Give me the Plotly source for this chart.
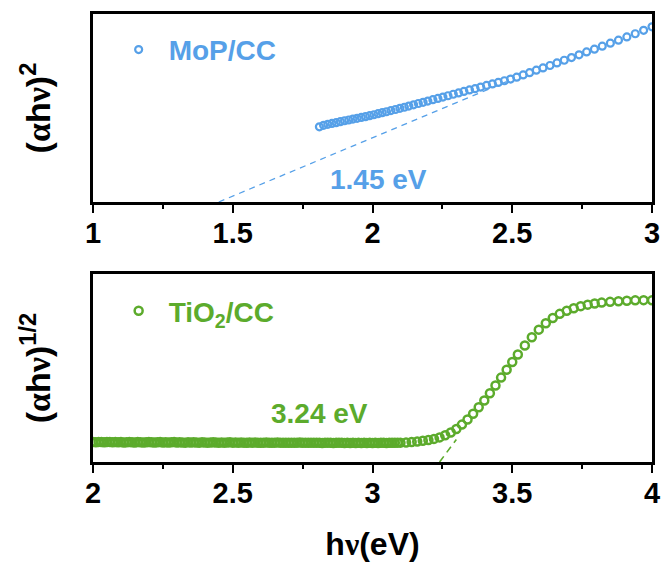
import plotly.graph_objects as go

# ---- MoP/CC Tauc data: (αhν)^2 vs photon energy ----
mop_x = [1.81, 1.825, 1.84, 1.855, 1.87, 1.885, 1.90, 1.915, 1.93, 1.945,
         1.96, 1.975, 1.99, 2.005, 2.02, 2.035, 2.05, 2.066, 2.082, 2.098,
         2.114, 2.13, 2.147, 2.164, 2.181, 2.198, 2.216, 2.234, 2.252, 2.27,
         2.289, 2.308, 2.327, 2.347, 2.367, 2.387, 2.408, 2.429, 2.45, 2.472,
         2.494, 2.516, 2.539, 2.562, 2.586, 2.61, 2.635, 2.66, 2.686, 2.712,
         2.739, 2.766, 2.794, 2.822, 2.851, 2.88, 2.91, 2.94, 2.97, 3.0]
mop_y = [0.400, 0.408, 0.413, 0.418, 0.422, 0.427, 0.432, 0.436, 0.441, 0.445,
         0.450, 0.454, 0.459, 0.464, 0.470, 0.475, 0.480, 0.486, 0.492, 0.498,
         0.504, 0.510, 0.517, 0.524, 0.530, 0.537, 0.544, 0.551, 0.558, 0.565,
         0.573, 0.580, 0.588, 0.596, 0.603, 0.611, 0.620, 0.628, 0.636, 0.645,
         0.654, 0.664, 0.676, 0.688, 0.701, 0.713, 0.726, 0.740, 0.754, 0.768,
         0.783, 0.798, 0.813, 0.829, 0.845, 0.861, 0.878, 0.895, 0.913, 0.932]
mop_gap = 1.45            # extrapolated band gap (eV)
mop_fit_end = [2.48, 0.64]  # end of the linear extrapolation

# ---- TiO2/CC Tauc data: (αhν)^1/2 vs photon energy ----
tio2_x = [2.00, 2.01, 2.02, 2.03, 2.04, 2.05, 2.06, 2.07, 2.08, 2.09,
          2.10, 2.11, 2.12, 2.13, 2.14, 2.15, 2.16, 2.17, 2.18, 2.19,
          2.20, 2.21, 2.22, 2.23, 2.24, 2.25, 2.26, 2.27, 2.28, 2.29,
          2.30, 2.31, 2.32, 2.33, 2.34, 2.35, 2.36, 2.37, 2.38, 2.39,
          2.40, 2.41, 2.42, 2.43, 2.44, 2.45, 2.46, 2.47, 2.48, 2.49,
          2.50, 2.51, 2.52, 2.53, 2.54, 2.55, 2.56, 2.57, 2.58, 2.59,
          2.60, 2.61, 2.62, 2.63, 2.64, 2.65, 2.66, 2.67, 2.68, 2.69,
          2.70, 2.71, 2.72, 2.73, 2.74, 2.75, 2.76, 2.77, 2.78, 2.79,
          2.80, 2.81, 2.82, 2.83, 2.84, 2.85, 2.86, 2.87, 2.88, 2.89,
          2.90, 2.91, 2.92, 2.93, 2.94, 2.95, 2.96, 2.97, 2.98, 2.99,
          3.00, 3.01, 3.02, 3.03, 3.04, 3.05, 3.06, 3.07, 3.08, 3.09,
          3.10, 3.12, 3.14, 3.16, 3.18, 3.20, 3.22, 3.24, 3.26, 3.28,
          3.30, 3.32, 3.34, 3.36, 3.38, 3.40, 3.42, 3.44, 3.46, 3.48,
          3.50, 3.52, 3.545, 3.57, 3.595, 3.62, 3.645, 3.67, 3.695, 3.72,
          3.745, 3.77, 3.795, 3.82, 3.85, 3.88, 3.91, 3.94, 3.97, 4.0]
tio2_y = [0.106, 0.105, 0.107, 0.106, 0.105, 0.106, 0.107, 0.105, 0.106, 0.105,
          0.106, 0.104, 0.105, 0.106, 0.105, 0.104, 0.106, 0.105, 0.104, 0.105,
          0.106, 0.105, 0.104, 0.105, 0.106, 0.104, 0.105, 0.104, 0.105, 0.106,
          0.104, 0.105, 0.104, 0.103, 0.105, 0.104, 0.105, 0.104, 0.103, 0.105,
          0.104, 0.103, 0.104, 0.105, 0.104, 0.103, 0.104, 0.103, 0.104, 0.105,
          0.103, 0.104, 0.103, 0.104, 0.103, 0.102, 0.104, 0.103, 0.104, 0.103,
          0.102, 0.103, 0.104, 0.103, 0.102, 0.103, 0.104, 0.103, 0.102, 0.103,
          0.102, 0.103, 0.102, 0.103, 0.104, 0.102, 0.103, 0.102, 0.103, 0.102,
          0.103, 0.102, 0.101, 0.102, 0.103, 0.102, 0.101, 0.102, 0.103, 0.102,
          0.101, 0.102, 0.101, 0.102, 0.101, 0.102, 0.101, 0.102, 0.101, 0.102,
          0.101, 0.102, 0.101, 0.102, 0.102, 0.101, 0.102, 0.102, 0.102, 0.103,
          0.103, 0.104, 0.106, 0.109, 0.113, 0.117, 0.123, 0.131, 0.142, 0.157,
          0.176, 0.199, 0.226, 0.257, 0.291, 0.327, 0.366, 0.407, 0.449, 0.491,
          0.532, 0.572, 0.620, 0.664, 0.704, 0.738, 0.766, 0.788, 0.805, 0.818,
          0.829, 0.837, 0.843, 0.848, 0.852, 0.855, 0.858, 0.860, 0.861, 0.860]
tio2_gap = 3.24
tio2_fit_end = [3.30, 0.12]

BLUE = "#56a0e8"
GREEN = "#5cab2c"
FONT = "Liberation Sans, Arial, sans-serif"
GREEK = "Liberation Serif, Times New Roman, serif"


def greek(ch):
    return f"<span style='font-family:{GREEK}'>{ch}</span>"


fig = go.Figure()

fig.add_trace(go.Scatter(
    x=mop_x, y=mop_y, mode="markers", name="MoP/CC",
    marker=dict(symbol="circle-open", size=7, color=BLUE, line=dict(width=2.2, color=BLUE)),
    xaxis="x", yaxis="y", legend="legend",
))
fig.add_trace(go.Scatter(
    x=[mop_gap, mop_fit_end[0]], y=[0, mop_fit_end[1]], mode="lines",
    line=dict(color=BLUE, width=1.3, dash="6px,5px"),
    xaxis="x", yaxis="y", showlegend=False,
))
fig.add_trace(go.Scatter(
    x=tio2_x, y=tio2_y, mode="markers", name="TiO<sub>2</sub>/CC",
    marker=dict(symbol="circle-open", size=8, color=GREEN, line=dict(width=2.5, color=GREEN)),
    xaxis="x2", yaxis="y2", legend="legend2",
))
fig.add_trace(go.Scatter(
    x=[tio2_gap, tio2_fit_end[0]], y=[0, tio2_fit_end[1]], mode="lines",
    line=dict(color=GREEN, width=1.6, dash="7px,5px"),
    xaxis="x2", yaxis="y2", showlegend=False,
))

xaxis_common = dict(
    showline=True, linewidth=2.6, linecolor="black", mirror=True,
    ticks="outside", ticklen=8, tickwidth=2.2, tickcolor="black",
    minor=dict(ticks="outside", ticklen=4, tickwidth=2, tickcolor="black", dtick=0.25),
    showgrid=False, zeroline=False, dtick=0.5, automargin=False,
    ticklabelstandoff=-5,
    tickfont=dict(family=FONT, size=29, color="black", weight="bold"),
)
yaxis_common = dict(
    showline=True, linewidth=2.6, linecolor="black", mirror=True,
    ticks="", showticklabels=False, showgrid=False, zeroline=False,
    range=[0, 1], automargin=False,
)
title_font = dict(family=FONT, size=34, color="black", weight="bold")

fig.update_layout(
    width=664, height=576,
    margin=dict(l=93, r=12, t=14, b=114),
    paper_bgcolor="white", plot_bgcolor="white",
    xaxis=dict(xaxis_common, range=[1, 3], anchor="y", tickvals=[1, 1.5, 2, 2.5, 3],
               ticktext=["1", "1.5", "2", "2.5", "3"]),
    yaxis=dict(yaxis_common, domain=[0.5804, 1], anchor="x",
               title=dict(text=f"({greek('α')}h{greek('ν')})<sup>2</sup>", font=title_font, standoff=30)),
    xaxis2=dict(xaxis_common, range=[2, 4], anchor="y2", tickvals=[2, 2.5, 3, 3.5, 4],
                ticktext=["2", "2.5", "3", "3.5", "4"],
                title=dict(text=f"h{greek('ν')}(eV)", font=dict(title_font, size=32), standoff=26)),
    yaxis2=dict(yaxis_common, domain=[0, 0.4196], anchor="x2",
                title=dict(text=f"({greek('α')}h{greek('ν')})<sup>1/2</sup>", font=title_font, standoff=30)),
    legend=dict(x=0.028, y=0.92, xanchor="left", yanchor="middle", bgcolor="rgba(0,0,0,0)",
                itemwidth=50,
                font=dict(family=FONT, size=28, color=BLUE, weight="bold")),
    legend2=dict(x=0.028, y=0.337, xanchor="left", yanchor="middle", bgcolor="rgba(0,0,0,0)",
                 itemwidth=50,
                 font=dict(family=FONT, size=28, color=GREEN, weight="bold")),
    annotations=[
        dict(text=f"{mop_gap:.2f} eV", x=2.02, y=0.12, xref="x", yref="y", showarrow=False,
             font=dict(family=FONT, size=28, color=BLUE, weight="bold")),
        dict(text=f"{tio2_gap:.2f} eV", x=2.81, y=0.26, xref="x2", yref="y2", showarrow=False,
             font=dict(family=FONT, size=28, color=GREEN, weight="bold")),
    ],
)

fig.write_html("out.html")
